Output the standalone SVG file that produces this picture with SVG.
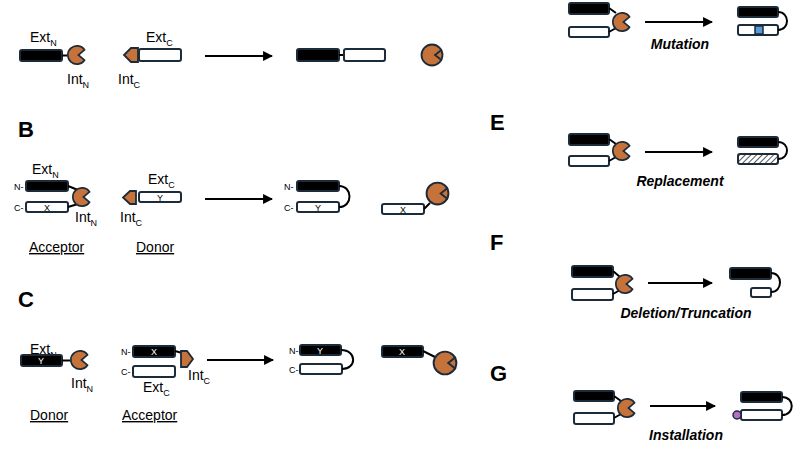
<svg xmlns="http://www.w3.org/2000/svg" width="808" height="455" viewBox="0 0 808 455">
<style>
text{font-family:"Liberation Sans",Arial,sans-serif;fill:#000}
.lbl{font-size:14px}
.sub{font-size:9px}
.pl{font-size:22px;font-weight:bold}
.sm{font-size:9px}
.in{font-size:9px;text-anchor:middle}
.inw{font-size:9px;text-anchor:middle;fill:#fff}
.it{font-size:14px;font-weight:bold;font-style:italic;text-anchor:middle}
.u{font-size:14px;text-decoration:underline}
.bk{fill:#000;stroke:#1c2b3a;stroke-width:2}
.wt{fill:#fff;stroke:#1c2b3a;stroke-width:2}
.pac{fill:#c6723b;stroke:#1c2b3a;stroke-width:1.8}
.ln{fill:none;stroke:#000;stroke-width:2}
.ar{fill:none;stroke:#000;stroke-width:2.2}
</style>
<defs>
<marker id="ah" viewBox="0 0 10 10" refX="9" refY="5" markerWidth="4.5" markerHeight="4.5" orient="auto" markerUnits="strokeWidth"><path d="M0,0 L10,5 L0,10 Z" fill="#000"/></marker>
<pattern id="hatch" width="4" height="4" patternUnits="userSpaceOnUse" patternTransform="rotate(45)"><rect width="4" height="4" fill="#fff"/><line x1="0" y1="0" x2="0" y2="4" stroke="#555" stroke-width="2"/></pattern>
<symbol id="pacman" viewBox="-12 -12 24 24" overflow="visible"><path class="pac" d="M8.2,-5.7 A10,10 0 1 0 8.2,5.7 L1.5,0 Z"/></symbol>
<symbol id="pacl" viewBox="-12 -12 24 24" overflow="visible"><path class="pac" d="M-8.2,-5.7 A10,10 0 1 1 -8.2,5.7 L-1.5,0 Z"/></symbol>
<symbol id="ball" viewBox="-12 -12 24 24" overflow="visible"><circle r="10.5" class="pac"/><path d="M10,-5.5 L3,0 L10,5.5" fill="none" stroke="#1c2b3a" stroke-width="1.8"/></symbol>
</defs>

<g id="panelA">
<text class="lbl" x="30" y="42">Ext<tspan class="sub" dy="4">N</tspan></text>
<rect class="bk" x="20" y="50" width="42" height="11" rx="2"/>
<line class="ln" x1="62" y1="55.5" x2="67" y2="55.5"/>
<use href="#pacman" x="66" y="44" width="22" height="22"/>
<text class="lbl" x="67" y="84">Int<tspan class="sub" dy="4">N</tspan></text>
<text class="lbl" x="146" y="42">Ext<tspan class="sub" dy="4">C</tspan></text>
<path class="pac" d="M138,48 L138,62 L131,62 L124,55 L131,48 Z"/>
<rect class="wt" x="139" y="49" width="42" height="12" rx="2"/>
<text class="lbl" x="118" y="84">Int<tspan class="sub" dy="4">C</tspan></text>
<rect class="bk" x="297" y="49" width="42" height="12" rx="2"/>
<line class="ln" x1="339" y1="55" x2="344" y2="55"/>
<rect class="wt" x="344" y="49" width="41" height="12" rx="2"/>
<use href="#ball" x="420" y="43" width="24" height="24"/>
</g>

<g id="panelB">
<text class="pl" x="18" y="137">B</text>
<text class="lbl" x="32" y="174">Ext<tspan class="sub" dy="4">N</tspan></text>
<text class="sm" x="14" y="190">N-</text>
<rect class="bk" x="26" y="181" width="42" height="10" rx="2"/>
<text class="sm" x="14" y="211">C-</text>
<rect class="wt" x="26" y="202" width="42" height="10" rx="2"/>
<text class="in" x="47" y="211">X</text>
<path class="ln" d="M68,186 L78,190 M68,207 L78,204"/>
<use href="#pacman" x="71" y="186" width="22" height="22"/>
<text class="lbl" x="75" y="222">Int<tspan class="sub" dy="4">N</tspan></text>
<text class="lbl" x="148" y="184">Ext<tspan class="sub" dy="4">C</tspan></text>
<path class="pac" d="M136,191 L136,204 L130,204 L123,197.5 L130,191 Z"/>
<rect class="wt" x="139" y="192" width="42" height="10" rx="2"/>
<text class="in" x="160" y="201">Y</text>
<text class="lbl" x="120" y="222">Int<tspan class="sub" dy="4">C</tspan></text>
<text class="u" x="29" y="252">Acceptor</text>
<text class="u" x="136" y="252">Donor</text>
<text class="sm" x="284" y="190">N-</text>
<rect class="bk" x="297" y="181" width="42" height="10" rx="2"/>
<text class="sm" x="284" y="211">C-</text>
<rect class="wt" x="297" y="202" width="42" height="10" rx="2"/>
<text class="in" x="318" y="211">Y</text>
<path class="ln" d="M339,186 C353,186 353,207 339,207"/>
<rect class="wt" x="382" y="204" width="42" height="10" rx="2"/>
<text class="in" x="403" y="213">X</text>
<line class="ln" x1="424" y1="209" x2="430" y2="203"/>
<use href="#ball" x="425" y="181" width="25" height="25"/>
</g>

<g id="panelC">
<text class="pl" x="18" y="307">C</text>
<text class="lbl" x="30" y="354">Ext<tspan class="sub" dy="4">N</tspan></text>
<rect class="bk" x="21" y="355" width="41" height="11" rx="2"/>
<text class="inw" x="41" y="364">Y</text>
<line class="ln" x1="62" y1="360.5" x2="70" y2="360.5"/>
<use href="#pacman" x="69" y="349" width="22" height="22"/>
<text class="lbl" x="71" y="388">Int<tspan class="sub" dy="4">N</tspan></text>
<text class="sm" x="121" y="355">N-</text>
<rect class="bk" x="133" y="346" width="42" height="11" rx="2"/>
<text class="inw" x="154" y="355">X</text>
<text class="sm" x="121" y="375">C-</text>
<rect class="wt" x="133" y="366" width="42" height="11" rx="2"/>
<line class="ln" x1="175" y1="351" x2="182" y2="353"/>
<path class="pac" d="M181,351 L187,351 L193,359 L187,367 L181,367 Z"/>
<text class="lbl" x="188" y="380">Int<tspan class="sub" dy="4">C</tspan></text>
<text class="lbl" x="143" y="392">Ext<tspan class="sub" dy="4">C</tspan></text>
<text class="u" x="30" y="420">Donor</text>
<text class="u" x="122" y="420">Acceptor</text>
<text class="sm" x="289" y="354">N-</text>
<rect class="bk" x="300" y="345" width="41" height="10" rx="2"/>
<text class="inw" x="320" y="354">Y</text>
<text class="sm" x="289" y="373">C-</text>
<rect class="wt" x="300" y="364" width="42" height="10" rx="2"/>
<path class="ln" d="M341,350 C357,350 357,369 342,369"/>
<rect class="bk" x="382" y="346" width="41" height="11" rx="2"/>
<text class="inw" x="402" y="355">X</text>
<line class="ln" x1="423" y1="351" x2="437" y2="358"/>
<use href="#ball" x="432" y="350" width="26" height="26"/>
</g>

<g id="panelD">
<rect class="bk" x="569" y="3" width="40" height="11" rx="2"/>
<rect class="wt" x="569" y="27" width="40" height="10" rx="2"/>
<path class="ln" d="M609,8 L616,13 M609,32 L616,28"/>
<use href="#pacman" x="611" y="11" width="22" height="22"/>
<rect class="bk" x="738" y="7" width="40" height="10" rx="2"/>
<rect class="wt" x="738" y="25" width="40" height="10" rx="2"/>
<rect x="755" y="26" width="8" height="8" fill="#5b9bd5" stroke="#1c2b3a" stroke-width="1.5"/>
<path class="ln" d="M778,12 C790,12 790,30 778,30"/>
<text class="it" x="680" y="49">Mutation</text>
</g>

<g id="panelE">
<text class="pl" x="490" y="130">E</text>
<rect class="bk" x="569" y="134" width="40" height="11" rx="2"/>
<rect class="wt" x="569" y="156" width="40" height="10" rx="2"/>
<path class="ln" d="M609,139 L616,144 M609,161 L616,157"/>
<use href="#pacman" x="611" y="140" width="22" height="22"/>
<rect class="bk" x="738" y="137" width="40" height="10" rx="2"/>
<rect x="738" y="154" width="40" height="10" rx="2" fill="url(#hatch)" stroke="#1c2b3a" stroke-width="2"/>
<path class="ln" d="M778,142 C790,142 790,159 778,159"/>
<text class="it" x="680" y="186">Replacement</text>
</g>

<g id="panelF">
<text class="pl" x="490" y="250">F</text>
<rect class="bk" x="572" y="266" width="41" height="11" rx="2"/>
<rect class="wt" x="572" y="289" width="41" height="11" rx="2"/>
<path class="ln" d="M613,271 L620,277 M613,294 L620,290"/>
<use href="#pacman" x="614" y="273" width="22" height="22"/>
<rect class="bk" x="730" y="268" width="41" height="11" rx="2"/>
<rect class="wt" x="751" y="288" width="20" height="9" rx="2"/>
<path class="ln" d="M771,273 C783,273 783,292 771,292"/>
<text class="it" x="686" y="318">Deletion/Truncation</text>
</g>

<g id="panelG">
<text class="pl" x="490" y="381">G</text>
<rect class="bk" x="574" y="391" width="40" height="10" rx="2"/>
<rect class="wt" x="574" y="413" width="40" height="11" rx="2"/>
<path class="ln" d="M614,396 L621,401 M614,418 L621,414"/>
<use href="#pacman" x="616" y="397" width="22" height="22"/>
<rect class="bk" x="741" y="392" width="41" height="10" rx="2"/>
<rect class="wt" x="741" y="410" width="41" height="10" rx="2"/>
<path class="ln" d="M782,397 C795,397 795,415 782,415"/>
<circle cx="737" cy="415" r="4" fill="#b66fc4" stroke="#1c2b3a" stroke-width="1.5"/>
<text class="it" x="686" y="440">Installation</text>
</g>

<g id="connectors">
<line class="ar" x1="205" y1="56" x2="272" y2="56" marker-end="url(#ah)"/>
<line class="ar" x1="205" y1="199" x2="272" y2="199" marker-end="url(#ah)"/>
<line class="ar" x1="207" y1="360" x2="273" y2="360" marker-end="url(#ah)"/>
<line class="ar" x1="645" y1="22" x2="712" y2="22" marker-end="url(#ah)"/>
<line class="ar" x1="645" y1="152" x2="712" y2="152" marker-end="url(#ah)"/>
<line class="ar" x1="648" y1="283" x2="712" y2="283" marker-end="url(#ah)"/>
<line class="ar" x1="650" y1="406" x2="715" y2="406" marker-end="url(#ah)"/>
</g>
</svg>
